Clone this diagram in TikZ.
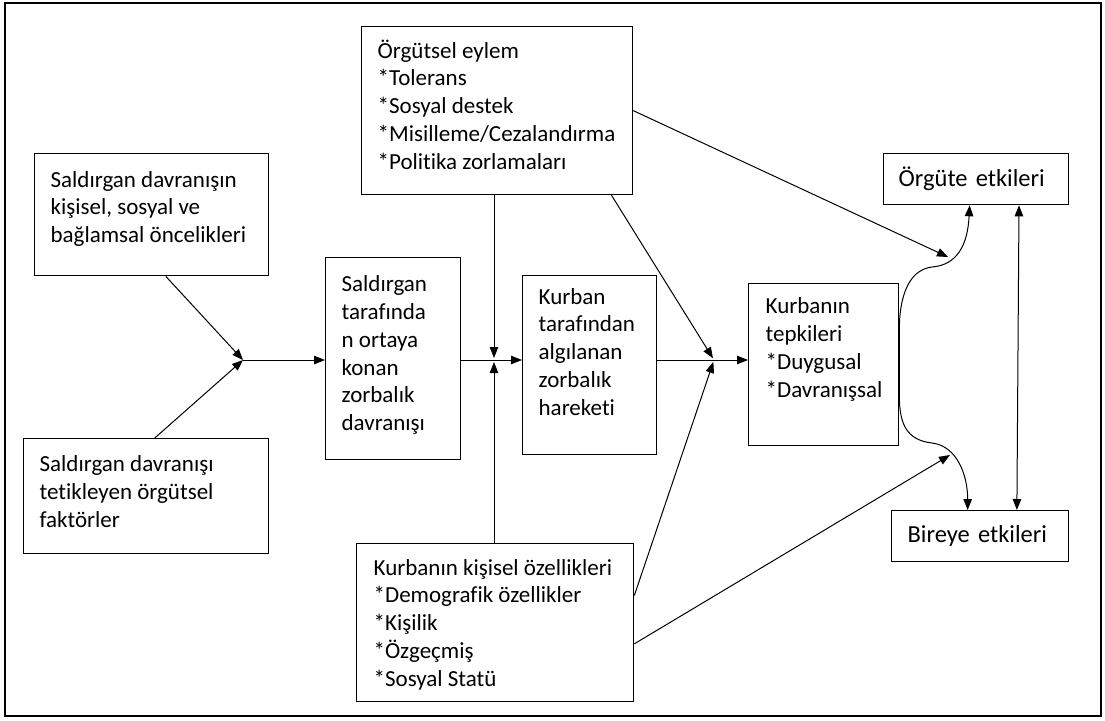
\documentclass[tikz,border=0pt]{standalone}
\usepackage{fontspec}
\setmainfont[Ligatures=NoCommon]{Carlito}
\usetikzlibrary{arrows.meta, positioning, calc}
\newcommand{\Cell}[4][0pt]{\parbox[c][#3][t]{#2}{\raggedright\vspace*{#1}\strut #4}}
\newcommand{\cellfont}{\fontsize{23}{27.8}\selectfont}
\tikzset{
    box/.style={draw, line width=1.3pt, anchor=north west, inner xsep=16pt, inner ysep=12pt, font=\cellfont},
    effect/.style={box, align=left, minimum height=51pt, inner xsep=15pt, font=\fontsize{24.5}{28}\selectfont},
    arr/.style={-{Triangle[length=11pt, width=8.5pt]}, line width=1pt},
    both/.style={{Triangle[length=11pt, width=8.5pt]}-{Triangle[length=11pt, width=8.5pt]}, line width=1pt},
    frame/.style={line width=2pt},
}

\begin{document}
\begin{tikzpicture}[x=1pt, y=-1pt]
    \useasboundingbox (0,0) rectangle (1105,720);
    \draw[frame] (5,3) rectangle (1101,716);

    \node[box] (org) at (361,26) {\Cell{239pt}{144pt}{Örgütsel eylem\\{}*Tolerans\\{}*Sosyal destek\\{}*Misilleme/Cezalandırma\\{}*Politika zorlamaları}};
    \node[box] (ante) at (34,153) {\Cell[2pt]{202pt}{98pt}{Saldırgan davranışın\\kişisel, sosyal ve\\bağlamsal öncelikleri}};
    \node[box] (bully) at (325,257) {\Cell[2.5pt]{103pt}{178pt}{Saldırgan\\tarafında\\n ortaya\\konan\\zorbalık\\davranışı}};
    \node[box] (perc) at (522,275) {\Cell[-3pt]{102pt}{155pt}{Kurban\\tarafından\\algılanan\\zorbalık\\hareketi}};
    \node[box, inner xsep=17pt] (react) at (748,283) {\Cell[-1.5pt]{116pt}{138pt}{Kurbanın\\tepkileri\\{}*Duygusal\\{}*Davranışsal}};
    \node[box] (trig) at (23,438) {\Cell[1.5pt]{213pt}{91pt}{Saldırgan davranışı\\tetikleyen örgütsel\\faktörler}};
    \node[box, inner xsep=17pt] (vict) at (356,543) {\Cell{243pt}{134pt}{Kurbanın kişisel özellikleri\\{}*Demografik özellikler\\{}*Kişilik\\{}*Özgeçmiş\\{}*Sosyal Statü}};
    \node[effect, text width=155pt] (orgeff) at (883,153) {Örgüte etkileri};
    \node[effect, inner xsep=16pt, text width=145pt] (indeff) at (891,510) {Bireye etkileri};

    \coordinate (j1) at (243,360);
    \coordinate (j2) at (494,360);
    \coordinate (j3) at (714,360);
    \coordinate (t1) at (948,257);
    \coordinate (t2) at (950,455);

    \draw[arr] ($(ante.south west)!0.56!(ante.south east)$) -- (j1);
    \draw[arr] ($(trig.north west)!0.535!(trig.north east)$) -- (j1);
    \draw[arr] (j1) -- (j1 -| bully.west);
    \draw[arr] (j1 -| bully.east) -- (j1 -| perc.west);
    \draw[arr, shorten >=2pt] (org.south -| j2) -- (j2);
    \draw[arr, shorten >=2pt] (vict.north -| j2) -- (j2);
    \draw[arr] (j1 -| perc.east) -- (j1 -| react.west);
    \draw[arr, shorten >=2pt] ($(org.south west)!0.92!(org.south east)$) -- (j3);
    \draw[arr, shorten >=2pt] ($(vict.north east)!0.33!(vict.south east)$) -- (j3);
    \draw[arr] (org.east) -- (t1);
    \draw[arr] ($(vict.north east)!0.633!(vict.south east)$) -- (t2);

    % reactions to both outcomes
    \draw[both] ($(orgeff.south west)!0.465!(orgeff.south east)$)
        .. controls +(-2,40) and +(25,-2) .. (932,267)
        .. controls +(-25,3) and +(0,-30) .. ($(react.north east)+(0,47)$)
        -- ($(react.north east)+(0,112)$)
        .. controls +(0,30) and +(-25,-3) .. (932,443)
        .. controls +(25,3) and +(0,-35) .. ($(indeff.north west)!0.43!(indeff.north east)$);
    \draw[both] ($(orgeff.south west)!0.73!(orgeff.south east)$) -- ($(indeff.north west)!0.706!(indeff.north east)$);
\end{tikzpicture}
\end{document}
